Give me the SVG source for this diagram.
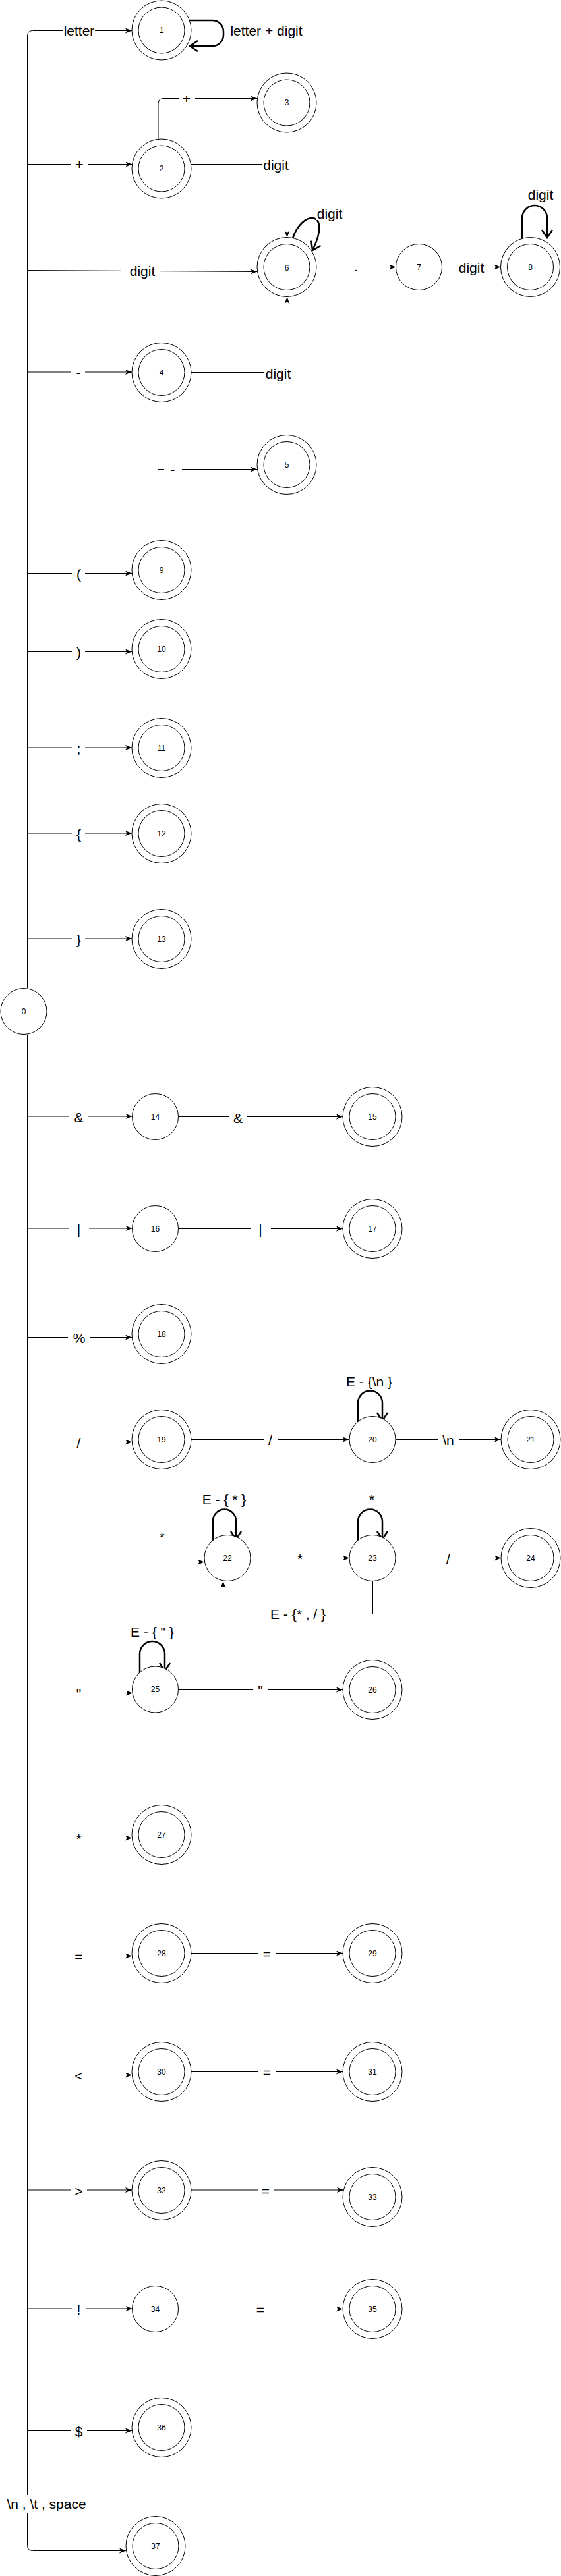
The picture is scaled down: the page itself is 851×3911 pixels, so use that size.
<svg xmlns="http://www.w3.org/2000/svg" width="851" height="3911" viewBox="0 0 851 3911">
<defs>
<marker id="arr" viewBox="0 0 10 8" refX="10" refY="4" markerWidth="10" markerHeight="8" markerUnits="userSpaceOnUse" orient="auto"><path d="M0,0 L10,4 L0,8 L2.5,4 Z" fill="#000"/></marker>
<marker id="open" viewBox="-2 -2 16 20" refX="12" refY="8" markerWidth="16" markerHeight="20" markerUnits="userSpaceOnUse" orient="auto"><path d="M0,0 L12,8 L0,16" fill="none" stroke="#000" stroke-width="2.5"/></marker>
<style>
.n{fill:#fff;stroke:#000;stroke-width:1}
.e{fill:none;stroke:#000;stroke-width:1;marker-end:url(#arr)}
.p{fill:none;stroke:#000;stroke-width:1}
.lp{fill:none;stroke:#000;stroke-width:2.5;marker-end:url(#open)}
.bg{fill:#fff}
.t{font-family:"Liberation Sans",Arial,sans-serif;font-size:21px;text-anchor:middle;dominant-baseline:central;fill:#000}
.nt{font-family:"Liberation Sans",Arial,sans-serif;font-size:12px;text-anchor:middle;dominant-baseline:central;fill:#000}
</style>
</defs>
<rect width="851" height="3911" fill="#fff"/>
<g id="connectors">
<g id="trunk">
<path class="e" d="M41.5 1500 V54.5 Q41.5 46.5 49.5 46.5 H200"/>
<path class="e" d="M41.5 1571 V3864.5 Q41.5 3872.5 49.5 3872.5 H191"/>
<rect class="bg" x="6" y="3788" width="130" height="27"/>
<text class="t" x="70.5" y="3801.5">\n , \t , space</text>
<rect class="bg" x="96" y="34" width="48" height="24"/>
<text class="t" x="120" y="46">letter</text>
</g>
<g id="e-0-2"><path class="e" d="M41.5 249.5 H200.5"/><rect class="bg" x="108" y="238" width="25" height="24"/><text class="t" x="120.5" y="249.5">+</text></g>
<g id="e-0-6"><path class="e" d="M41.5 410.5 L390 412.5"/><rect class="bg" x="184" y="399" width="58" height="25"/><text class="t" x="216" y="411.5">digit</text></g>
<g id="e-0-4"><path class="e" d="M41.5 565 H200"/><rect class="bg" x="108" y="554" width="21" height="22"/><text class="t" x="119" y="565">-</text></g>
<g id="e-0-9"><path class="e" d="M41.5 870.5 H200"/><rect class="bg" x="109" y="858" width="20" height="26"/><text class="t" x="119.5" y="871">(</text></g>
<g id="e-0-10"><path class="e" d="M41.5 989.5 H200"/><rect class="bg" x="109" y="977" width="20" height="26"/><text class="t" x="119.5" y="990">)</text></g>
<g id="e-0-11"><path class="e" d="M41.5 1135 H200"/><rect class="bg" x="109" y="1123" width="20" height="26"/><text class="t" x="119.5" y="1136">;</text></g>
<g id="e-0-12"><path class="e" d="M41.5 1265 H200"/><rect class="bg" x="109" y="1253" width="20" height="26"/><text class="t" x="119.5" y="1266">{</text></g>
<g id="e-0-13"><path class="e" d="M41.5 1425 H200"/><rect class="bg" x="109" y="1413" width="20" height="26"/><text class="t" x="119.5" y="1426">}</text></g>
<g id="e-0-14"><path class="e" d="M41.5 1695 H200.5"/><rect class="bg" x="105" y="1683" width="28" height="26"/><text class="t" x="119.5" y="1696">&amp;</text></g>
<g id="e-0-16"><path class="e" d="M41.5 1865 H200.5"/><rect class="bg" x="105" y="1853" width="30" height="26"/><text class="t" x="119.5" y="1866">|</text></g>
<g id="e-0-18"><path class="e" d="M41.5 2030.5 H200"/><rect class="bg" x="103" y="2018" width="33" height="26"/><text class="t" x="120" y="2031">%</text></g>
<g id="e-0-19"><path class="e" d="M41.5 2189.5 H200"/><rect class="bg" x="109" y="2177" width="21" height="26"/><text class="t" x="119.5" y="2190">/</text></g>
<g id="e-0-25"><path class="e" d="M41.5 2570.5 H201"/><rect class="bg" x="108" y="2558" width="22" height="26"/><text class="t" x="119.5" y="2571">"</text></g>
<g id="e-0-27"><path class="e" d="M41.5 2790.5 H200"/><rect class="bg" x="108" y="2778" width="22" height="26"/><text class="t" x="119.5" y="2791">*</text></g>
<g id="e-0-28"><path class="e" d="M41.5 2969.5 H200"/><rect class="bg" x="108" y="2957" width="22" height="26"/><text class="t" x="119.5" y="2970">=</text></g>
<g id="e-0-30"><path class="e" d="M41.5 3150.5 H200"/><rect class="bg" x="107" y="3138" width="25" height="26"/><text class="t" x="119.5" y="3151">&lt;</text></g>
<g id="e-0-32"><path class="e" d="M41.5 3325 H200"/><rect class="bg" x="107" y="3313" width="25" height="26"/><text class="t" x="119.5" y="3326">&gt;</text></g>
<g id="e-0-34"><path class="e" d="M41.5 3505 H200.5"/><rect class="bg" x="109" y="3493" width="21" height="26"/><text class="t" x="119.5" y="3506">!</text></g>
<g id="e-0-36"><path class="e" d="M41.5 3690.5 H200"/><rect class="bg" x="107" y="3678" width="25" height="26"/><text class="t" x="119.5" y="3691">$</text></g>
<g id="e-2-3"><path class="e" d="M240 211 V157.5 Q240 149.5 248 149.5 H390"/><rect class="bg" x="271" y="138" width="25" height="24"/><text class="t" x="283" y="149.5">+</text></g>
<g id="e-2-6"><path class="e" d="M289.5 249.5 H435.5 V360.5"/><rect class="bg" x="397" y="238" width="43" height="25"/><text class="t" x="418.5" y="250">digit</text></g>
<g id="e-6-7"><path class="e" d="M480.5 405.5 H600.5"/><rect class="bg" x="524" y="394" width="32" height="24"/><text class="t" x="540" y="404">.</text></g>
<g id="e-7-8"><path class="e" d="M670.5 405.5 H759.5"/><rect class="bg" x="694" y="394" width="42" height="25"/><text class="t" x="715" y="406">digit</text></g>
<g id="e-4-6"><path class="e" d="M290 565.5 H435.5 V451"/><rect class="bg" x="400" y="553" width="44" height="28"/><text class="t" x="422" y="567">digit</text></g>
<g id="e-4-5"><path class="e" d="M239.5 610 V712.5 H390"/><rect class="bg" x="249" y="701" width="27" height="24"/><text class="t" x="262" y="712.5">-</text></g>
<g id="e-14-15"><path class="e" d="M270.5 1695.5 H520"/><rect class="bg" x="347" y="1684" width="27" height="26"/><text class="t" x="361" y="1697">&amp;</text></g>
<g id="e-16-17"><path class="e" d="M270.5 1865.5 H520"/><rect class="bg" x="380" y="1853" width="31" height="26"/><text class="t" x="395" y="1866">|</text></g>
<g id="e-19-20"><path class="e" d="M290 2185.5 H530"/><rect class="bg" x="400" y="2173" width="21" height="26"/><text class="t" x="410" y="2186">/</text></g>
<g id="e-20-21"><path class="e" d="M600 2185.5 H760"/><rect class="bg" x="665" y="2173" width="31" height="26"/><text class="t" x="680" y="2186">\n</text></g>
<g id="e-19-22"><path class="e" d="M245.5 2230.5 V2371.5 H310"/><rect class="bg" x="235" y="2316" width="21" height="30"/><text class="t" x="245.5" y="2333">*</text></g>
<g id="e-22-23"><path class="e" d="M380 2365.5 H530"/><rect class="bg" x="445" y="2353" width="21" height="26"/><text class="t" x="455" y="2366">*</text></g>
<g id="e-23-24"><path class="e" d="M600 2365.5 H760"/><rect class="bg" x="670" y="2353" width="20" height="26"/><text class="t" x="680" y="2366">/</text></g>
<g id="e-23-22"><path class="e" d="M565.5 2400.5 V2450.5 H338.5 V2401"/><rect class="bg" x="400" y="2437" width="105" height="28"/><text class="t" x="452" y="2450.5">E - {* , / }</text></g>
<g id="e-25-26"><path class="e" d="M270.5 2565.5 H520"/><rect class="bg" x="384" y="2553" width="22" height="26"/><text class="t" x="395" y="2566">"</text></g>
<g id="e-28-29"><path class="e" d="M290 2965.5 H520"/><rect class="bg" x="392" y="2953" width="26" height="26"/><text class="t" x="405" y="2966">=</text></g>
<g id="e-30-31"><path class="e" d="M290 3145.5 H520"/><rect class="bg" x="392" y="3133" width="26" height="26"/><text class="t" x="405" y="3146">=</text></g>
<g id="e-32-33"><path class="e" d="M290 3325 H521"/><rect class="bg" x="391" y="3313" width="24" height="26"/><text class="t" x="403" y="3326">=</text></g>
<g id="e-34-35"><path class="e" d="M270.5 3505.5 H520"/><rect class="bg" x="383" y="3493" width="25" height="26"/><text class="t" x="395" y="3506">=</text></g>
<g id="loop-1"><path class="lp" d="M287 31 H322 A17 17 0 0 1 339 48 V53 A17 17 0 0 1 322 70 H288"/><text class="t" x="404" y="46">letter + digit</text></g>
<g id="loop-6"><path class="lp" d="M444 362 C458 318 505 318 474 380"/><rect class="bg" x="480" y="313" width="40" height="21"/><text class="t" x="500" y="324">digit</text></g>
<g id="loop-8"><path class="lp" d="M792 363 V331 A19 19 0 0 1 830 331 V361"/><text class="t" x="820" y="295">digit</text></g>
<g id="loop-20"><path class="lp" d="M543 2159 V2130 A18.5 18.5 0 0 1 580 2130 V2157"/><text class="t" x="560" y="2097">E - {\n }</text></g>
<g id="loop-22"><path class="lp" d="M323 2339 V2309 A17.5 17.5 0 0 1 358 2309 V2337"/><text class="t" x="340" y="2276">E - { * }</text></g>
<g id="loop-23"><path class="lp" d="M543 2339 V2310 A18.5 18.5 0 0 1 580 2310 V2337"/><text class="t" x="564" y="2276">*</text></g>
<g id="loop-25"><path class="lp" d="M212 2540 V2511 A19 19 0 0 1 250 2511 V2537"/><text class="t" x="231" y="2477">E - { " }</text></g>
</g>
<g id="node-0"><circle class="n" cx="36" cy="1535.5" r="35"/><text class="nt" x="36" y="1535.5">0</text></g>
<g id="node-1"><circle class="n" cx="245" cy="46" r="45"/><circle class="n" cx="245" cy="46" r="35"/><text class="nt" x="245" y="46">1</text></g>
<g id="node-2"><circle class="n" cx="245" cy="256" r="45"/><circle class="n" cx="245" cy="256" r="35"/><text class="nt" x="245" y="256">2</text></g>
<g id="node-3"><circle class="n" cx="435" cy="156" r="45"/><circle class="n" cx="435" cy="156" r="35"/><text class="nt" x="435" y="156">3</text></g>
<g id="node-4"><circle class="n" cx="245" cy="565.5" r="45"/><circle class="n" cx="245" cy="565.5" r="35"/><text class="nt" x="245" y="565.5">4</text></g>
<g id="node-5"><circle class="n" cx="435" cy="705.5" r="45"/><circle class="n" cx="435" cy="705.5" r="35"/><text class="nt" x="435" y="705.5">5</text></g>
<g id="node-6"><circle class="n" cx="435" cy="405.5" r="45"/><circle class="n" cx="435" cy="405.5" r="35"/><text class="nt" x="435" y="407">6</text></g>
<g id="node-7"><circle class="n" cx="635.5" cy="405.5" r="35"/><text class="nt" x="635.5" y="405.5">7</text></g>
<g id="node-8"><circle class="n" cx="804.5" cy="405.5" r="45"/><circle class="n" cx="804.5" cy="405.5" r="35"/><text class="nt" x="804.5" y="406">8</text></g>
<g id="node-9"><circle class="n" cx="245" cy="865.5" r="45"/><circle class="n" cx="245" cy="865.5" r="35"/><text class="nt" x="245" y="865.5">9</text></g>
<g id="node-10"><circle class="n" cx="245" cy="985.5" r="45"/><circle class="n" cx="245" cy="985.5" r="35"/><text class="nt" x="245" y="985.5">10</text></g>
<g id="node-11"><circle class="n" cx="245" cy="1135.5" r="45"/><circle class="n" cx="245" cy="1135.5" r="35"/><text class="nt" x="245" y="1135.5">11</text></g>
<g id="node-12"><circle class="n" cx="245" cy="1265.5" r="45"/><circle class="n" cx="245" cy="1265.5" r="35"/><text class="nt" x="245" y="1265.5">12</text></g>
<g id="node-13"><circle class="n" cx="245" cy="1425.5" r="45"/><circle class="n" cx="245" cy="1425.5" r="35"/><text class="nt" x="245" y="1425.5">13</text></g>
<g id="node-14"><circle class="n" cx="235.5" cy="1695.5" r="35"/><text class="nt" x="235.5" y="1695.5">14</text></g>
<g id="node-15"><circle class="n" cx="565" cy="1695.5" r="45"/><circle class="n" cx="565" cy="1695.5" r="35"/><text class="nt" x="565" y="1695.5">15</text></g>
<g id="node-16"><circle class="n" cx="235.5" cy="1865.5" r="35"/><text class="nt" x="235.5" y="1865.5">16</text></g>
<g id="node-17"><circle class="n" cx="565" cy="1865.5" r="45"/><circle class="n" cx="565" cy="1865.5" r="35"/><text class="nt" x="565" y="1865.5">17</text></g>
<g id="node-18"><circle class="n" cx="245" cy="2025.5" r="45"/><circle class="n" cx="245" cy="2025.5" r="35"/><text class="nt" x="245" y="2025.5">18</text></g>
<g id="node-19"><circle class="n" cx="245" cy="2185.5" r="45"/><circle class="n" cx="245" cy="2185.5" r="35"/><text class="nt" x="245" y="2185.5">19</text></g>
<g id="node-20"><circle class="n" cx="565" cy="2185.5" r="35"/><text class="nt" x="565" y="2185.5">20</text></g>
<g id="node-21"><circle class="n" cx="805" cy="2185.5" r="45"/><circle class="n" cx="805" cy="2185.5" r="35"/><text class="nt" x="805" y="2185.5">21</text></g>
<g id="node-22"><circle class="n" cx="345" cy="2365.5" r="35"/><text class="nt" x="345" y="2365.5">22</text></g>
<g id="node-23"><circle class="n" cx="565" cy="2365.5" r="35"/><text class="nt" x="565" y="2365.5">23</text></g>
<g id="node-24"><circle class="n" cx="805" cy="2365.5" r="45"/><circle class="n" cx="805" cy="2365.5" r="35"/><text class="nt" x="805" y="2365.5">24</text></g>
<g id="node-25"><circle class="n" cx="235.5" cy="2565" r="35"/><text class="nt" x="235.5" y="2565">25</text></g>
<g id="node-26"><circle class="n" cx="565" cy="2565.5" r="45"/><circle class="n" cx="565" cy="2565.5" r="35"/><text class="nt" x="565" y="2565.5">26</text></g>
<g id="node-27"><circle class="n" cx="245" cy="2785.5" r="45"/><circle class="n" cx="245" cy="2785.5" r="35"/><text class="nt" x="245" y="2785.5">27</text></g>
<g id="node-28"><circle class="n" cx="245" cy="2965.5" r="45"/><circle class="n" cx="245" cy="2965.5" r="35"/><text class="nt" x="245" y="2965.5">28</text></g>
<g id="node-29"><circle class="n" cx="565" cy="2965.5" r="45"/><circle class="n" cx="565" cy="2965.5" r="35"/><text class="nt" x="565" y="2965.5">29</text></g>
<g id="node-30"><circle class="n" cx="245" cy="3145.5" r="45"/><circle class="n" cx="245" cy="3145.5" r="35"/><text class="nt" x="245" y="3145.5">30</text></g>
<g id="node-31"><circle class="n" cx="565" cy="3145.5" r="45"/><circle class="n" cx="565" cy="3145.5" r="35"/><text class="nt" x="565" y="3145.5">31</text></g>
<g id="node-32"><circle class="n" cx="245" cy="3325.5" r="45"/><circle class="n" cx="245" cy="3325.5" r="35"/><text class="nt" x="245" y="3325.5">32</text></g>
<g id="node-33"><circle class="n" cx="565" cy="3335.5" r="45"/><circle class="n" cx="565" cy="3335.5" r="35"/><text class="nt" x="565" y="3335.5">33</text></g>
<g id="node-34"><circle class="n" cx="235.5" cy="3505.5" r="35"/><text class="nt" x="235.5" y="3505.5">34</text></g>
<g id="node-35"><circle class="n" cx="565" cy="3505.5" r="45"/><circle class="n" cx="565" cy="3505.5" r="35"/><text class="nt" x="565" y="3505.5">35</text></g>
<g id="node-36"><circle class="n" cx="245" cy="3685.5" r="45"/><circle class="n" cx="245" cy="3685.5" r="35"/><text class="nt" x="245" y="3685.5">36</text></g>
<g id="node-37"><circle class="n" cx="236" cy="3865.5" r="45"/><circle class="n" cx="236" cy="3865.5" r="35"/><text class="nt" x="236" y="3865.5">37</text></g>
</svg>
